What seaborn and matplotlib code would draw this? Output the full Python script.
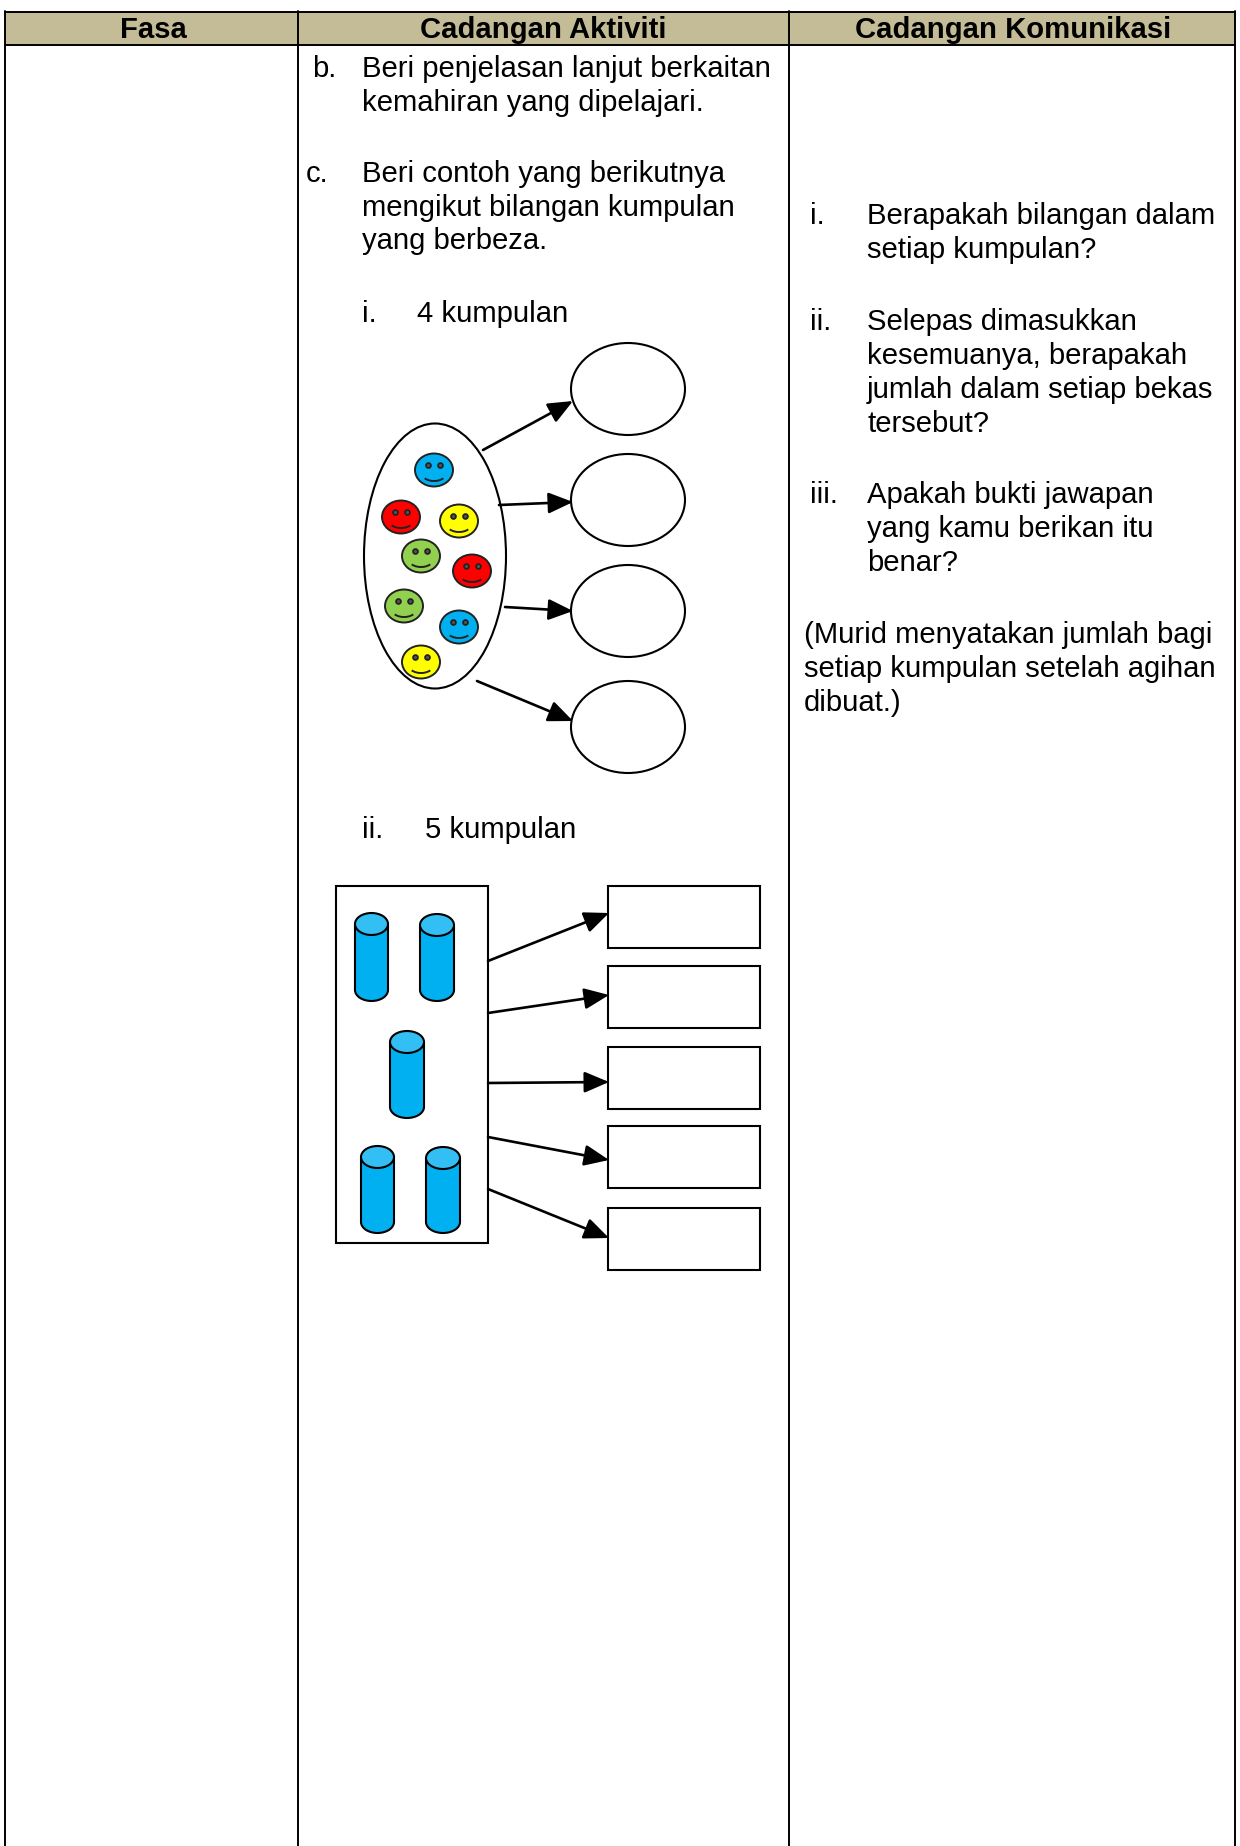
import numpy as np
import pandas as pd
import seaborn as sns
import matplotlib.pyplot as plt
from matplotlib.patches import Ellipse, Rectangle, Arc

# table text
header_labels = ['Fasa', 'Cadangan Aktiviti', 'Cadangan Komunikasi']
header_x = [153, 543, 1013]

aktiviti_marks = ['b.', 'c.', 'i.', 'ii.']
aktiviti_marks_x = [312, 306, 362, 362]
aktiviti_marks_y = [77, 182, 322, 838]

aktiviti_lines = ['Beri penjelasan lanjut berkaitan', 'kemahiran yang dipelajari.',
                  'Beri contoh yang berikutnya', 'mengikut bilangan kumpulan',
                  'yang berbeza.', '4 kumpulan', '5 kumpulan']
aktiviti_x = [362, 362, 362, 362, 362, 417, 425]
aktiviti_y = [77, 111, 182, 216, 249, 322, 838]

komunikasi_marks = ['i.', 'ii.', 'iii.']
komunikasi_marks_x = [810, 810, 810]
komunikasi_marks_y = [224, 330, 503]

komunikasi_lines = ['Berapakah bilangan dalam', 'setiap kumpulan?',
                    'Selepas dimasukkan', 'kesemuanya, berapakah',
                    'jumlah dalam setiap bekas', 'tersebut?',
                    'Apakah bukti jawapan', 'yang kamu berikan itu', 'benar?',
                    '(Murid menyatakan jumlah bagi', 'setiap kumpulan setelah agihan',
                    'dibuat.)']
komunikasi_x = [867, 867, 867, 867, 867, 867, 867, 867, 867, 804, 804, 804]
komunikasi_y = [224, 258, 330, 364, 398, 432, 503, 537, 571, 643, 677, 711]

# smiley picture
face_x = [434, 401, 459, 421, 472, 404, 459, 421]
face_y = [470, 517, 521, 556, 571, 606, 627, 662]
face_colors = ['#00B0F0', '#FF0000', '#FFFF00', '#92D050', '#FF0000', '#92D050', '#00B0F0', '#FFFF00']
circle_y = [389, 500, 611, 727]
circle_arrow_x0 = [483, 499, 505, 477]
circle_arrow_y0 = [450, 505, 607, 681]
circle_arrow_y1 = [401, 502, 611, 721]

# cylinder picture
cyl_left = [355, 420, 390, 361, 426]
cyl_right = [388, 454, 424, 394, 460]
cyl_top = [913, 914, 1031, 1146, 1147]
cyl_bottom = [1001, 1001, 1118, 1233, 1233]
box_top = [886, 966, 1047, 1126, 1208]
box_bottom = [948, 1028, 1109, 1188, 1270]
box_arrow_y0 = [961, 1013, 1083, 1137, 1189]
box_arrow_y1 = [913, 995, 1082, 1160, 1238]

sns.set_theme(style='white')
plt.rcParams['font.family'] = ['Liberation Sans', 'DejaVu Sans']

fig, ax = plt.subplots(figsize=(12.4, 18.46), dpi=100)
ax.set_position([0, 0, 1, 1])
ax.set_xlim(0, 1240)
ax.set_ylim(1846, 0)
ax.axis('off')

FS = 21.1
LW = 1.5

# header band and grid
ax.add_patch(Rectangle((5, 12), 1230, 33, fc='#C4BC96', ec='none', zorder=1))
for xv in [5, 298, 789, 1235]:
    ax.plot([xv, xv], [11, 1846], color='black', lw=1.4, zorder=2)
for yv in [12, 45]:
    ax.plot([5, 1235], [yv, yv], color='black', lw=1.4, zorder=2)

for lab, xv in zip(header_labels, header_x):
    ax.text(xv, 38, lab, ha='center', va='baseline', fontsize=FS, fontweight='bold', color='black')

for lab, xv, yv in zip(aktiviti_marks, aktiviti_marks_x, aktiviti_marks_y):
    ax.text(xv, yv, lab, va='baseline', fontsize=FS, color='black')
for lab, xv, yv in zip(aktiviti_lines, aktiviti_x, aktiviti_y):
    ax.text(xv, yv, lab, va='baseline', fontsize=FS, color='black')
for lab, xv, yv in zip(komunikasi_marks, komunikasi_marks_x, komunikasi_marks_y):
    ax.text(xv, yv, lab, va='baseline', fontsize=FS, color='black')
for lab, xv, yv in zip(komunikasi_lines, komunikasi_x, komunikasi_y):
    ax.text(xv, yv, lab, va='baseline', fontsize=FS, color='black')


def arrow(x0, y0, x1, y1):
    ax.annotate('', xy=(x1, y1), xytext=(x0, y0), zorder=4,
                arrowprops=dict(arrowstyle='-|>,head_length=0.75,head_width=0.32', color='black',
                                lw=1.9, shrinkA=0, shrinkB=0, mutation_scale=20))


# smiley group
ax.add_patch(Ellipse((435, 556), 142, 265, fc='white', ec='black', lw=LW, zorder=3))
for yv in circle_y:
    ax.add_patch(Ellipse((628, yv), 114, 92, fc='white', ec='black', lw=LW, zorder=3))
for x0, y0, y1 in zip(circle_arrow_x0, circle_arrow_y0, circle_arrow_y1):
    arrow(x0, y0, 573, y1)

for xv, yv, col in zip(face_x, face_y, face_colors):
    ax.add_patch(Ellipse((xv, yv), 38, 33, fc=col, ec='#222222', lw=1.4, zorder=5))
    ax.add_patch(Arc((xv, yv + 3), 25, 16, theta1=30, theta2=150, color='#222222', lw=1.4, zorder=6))

# eyes go through seaborn
eyes = pd.DataFrame({'x': np.concatenate([np.array(face_x) - 6, np.array(face_x) + 6]),
                     'y': np.concatenate([np.array(face_y) - 5, np.array(face_y) - 5])})
sns.scatterplot(data=eyes, x='x', y='y', s=12, color='#555555', edgecolor='#222222', linewidth=1.3,
                ax=ax, zorder=7, legend=False)
ax.set_xlim(0, 1240)
ax.set_ylim(1846, 0)

# cylinder group
ax.add_patch(Rectangle((336, 886), 152, 357, fc='white', ec='black', lw=LW, zorder=3))
for top, bot, y0, y1 in zip(box_top, box_bottom, box_arrow_y0, box_arrow_y1):
    ax.add_patch(Rectangle((608, top), 152, bot - top, fc='white', ec='black', lw=LW, zorder=3))
    arrow(488, y0, 609, y1)

for le, ri, top, bot in zip(cyl_left, cyl_right, cyl_top, cyl_bottom):
    w = ri - le
    cx = (le + ri) / 2
    eh = 22
    ax.add_patch(Ellipse((cx, bot - eh / 2), w, eh, fc='#00B0F0', ec='black', lw=LW, zorder=4))
    ax.add_patch(Rectangle((le, top + eh / 2), w, bot - top - eh, fc='#00B0F0', ec='none', zorder=5))
    ax.plot([le, le], [top + eh / 2, bot - eh / 2], color='black', lw=LW, zorder=6)
    ax.plot([ri, ri], [top + eh / 2, bot - eh / 2], color='black', lw=LW, zorder=6)
    ax.add_patch(Ellipse((cx, top + eh / 2), w, eh, fc='#33BFF3', ec='black', lw=LW, zorder=6))

fig.savefig('out.png', dpi=100, facecolor='white')
